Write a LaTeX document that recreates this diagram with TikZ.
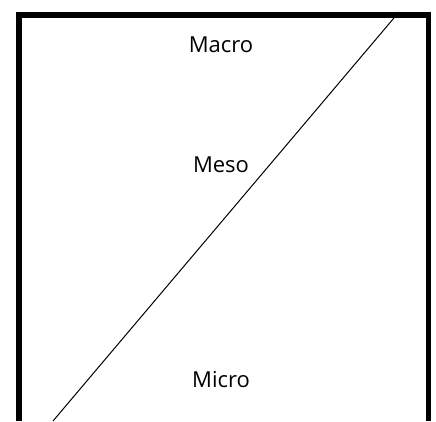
\documentclass[tikz,border=0pt]{standalone}
\usepackage{fontspec}
\setmainfont{Open Sans}
\usetikzlibrary{positioning}

\begin{document}
\begin{tikzpicture}[x=1pt,y=1pt]
            \useasboundingbox (0,0) rectangle (436,421);
            \node [anchor=base,font=\fontsize{22}{26}\selectfont] (Macro) at (221, 368) {Macro};
            \node [anchor=base,font=\fontsize{22}{26}\selectfont] (Meso) at (221, 248) {Meso};
            \node [anchor=base,font=\fontsize{22}{26}\selectfont] (Micro) at (221, 34) {Micro};
            \coordinate (low) at (53, 0);
            \coordinate (high) at (399, 409);

            \draw [line width=5.5pt, line join=miter](19,0) -- (19,406) -- (428.5,406) -- (428.5,0);
            \draw [line width=1pt](low) -- (high);
        \end{tikzpicture}
\end{document}
